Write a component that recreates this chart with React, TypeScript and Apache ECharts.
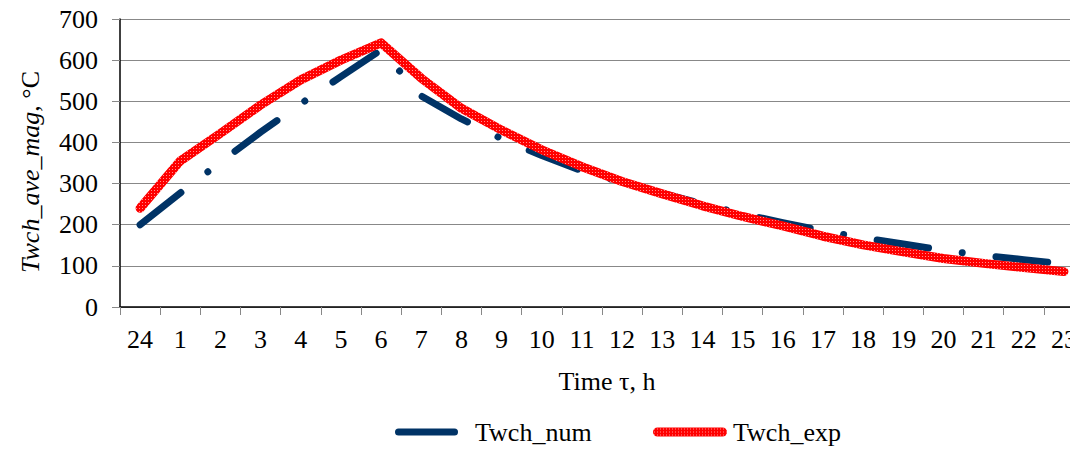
import React, { useEffect, useRef } from 'react';
import * as echarts from 'echarts';

const categories = ['24', '1', '2', '3', '4', '5', '6', '7', '8', '9', '10', '11', '12', '13', '14', '15', '16', '17', '18', '19', '20', '21', '22', '23'];
const twchNum = [200, 277, 352, 425, 494, 560, 625, 513, 457, 409, 368, 331, 303, 276, 251, 226, 205, 185, 168, 153, 138, 125, 115, 105];
const twchExp = [240, 355, 422, 491, 552, 600, 642, 556, 483, 430, 382, 341, 305, 275, 246, 220, 197, 172, 151, 134, 118, 106, 96, 86];
const yMin = 0;
const yMax = 700;
const yStep = 100;

const FONT = 'Liberation Serif';

const blueIcon = 'path://M3.5,0 H59.5 A3.5,3.5 0 0 1 59.5,7 H3.5 A3.5,3.5 0 0 1 3.5,0 Z';
const redIcon = 'path://M4.5,0 H69.5 A4.5,4.5 0 0 1 69.5,9 H4.5 A4.5,4.5 0 0 1 4.5,0 Z';

export default function App() {
  const ref = useRef<HTMLDivElement>(null);
  useEffect(() => {
    const chart = echarts.init(ref.current!, undefined, { renderer: 'svg' });
    const cv = document.createElement('canvas');
    cv.width = 3;
    cv.height = 3;
    const ctx = cv.getContext('2d')!;
    ctx.fillStyle = '#ff0000';
    ctx.fillRect(0, 0, 3, 3);
    ctx.fillStyle = '#ff8f8f';
    ctx.fillRect(1, 1, 1, 1);
    const redPattern: any = { image: cv, repeat: 'repeat', imageWidth: 3, imageHeight: 3 };

    chart.setOption({
      animation: false,
      backgroundColor: '#ffffff',
      grid: { left: 120, top: 19, height: 288, width: 964, containLabel: false, outerBoundsMode: 'none' },
      xAxis: {
        type: 'category',
        data: categories,
        boundaryGap: true,
        name: 'Time τ, h',
        nameLocation: 'middle',
        nameGap: 61,
        nameTextStyle: { fontFamily: FONT, fontSize: 26, color: '#000', padding: [0, 0, 0, 10] },
        axisLine: { show: true, lineStyle: { color: '#000', width: 1.5 } },
        axisTick: { show: true, alignWithLabel: false, length: 8, lineStyle: { color: '#888', width: 1 } },
        axisLabel: { fontFamily: FONT, fontSize: 26, color: '#000', margin: 19, interval: 0 },
        splitLine: { show: false },
      },
      yAxis: {
        type: 'value',
        min: yMin,
        max: yMax,
        interval: yStep,
        name: '{i|Twch_ave_mag}{n|, °C}',
        nameLocation: 'middle',
        nameRotate: 90,
        nameGap: 77,
        nameTextStyle: {
          fontFamily: FONT,
          fontSize: 26,
          color: '#000',
          padding: [0, 18, 0, 0],
          rich: {
            i: { fontFamily: FONT, fontSize: 26, fontStyle: 'italic', color: '#000' },
            n: { fontFamily: FONT, fontSize: 26, color: '#000' },
          },
        },
        axisLine: { show: true, lineStyle: { color: '#000', width: 1.5 } },
        axisTick: { show: true, length: 8, lineStyle: { color: '#888', width: 1 } },
        axisLabel: { fontFamily: FONT, fontSize: 26, color: '#000', margin: 22 },
        splitLine: { show: true, lineStyle: { color: '#888', width: 1 } },
      },
      legend: [
        {
          data: [{ name: 'Twch_num', icon: blueIcon, itemStyle: { color: '#003366' } }],
          left: 395,
          top: 419,
          padding: 0,
          itemWidth: 63,
          itemHeight: 7,
          selectedMode: false,
          textStyle: { fontFamily: FONT, fontSize: 26, color: '#000', padding: [0, 0, 0, 12] },
        },
        {
          data: [{ name: 'Twch_exp', icon: redIcon, itemStyle: { color: redPattern } }],
          left: 653,
          top: 419,
          padding: 0,
          itemWidth: 74,
          itemHeight: 9,
          selectedMode: false,
          textStyle: { fontFamily: FONT, fontSize: 26, color: '#000', padding: [0, 0, 0, 1] },
        },
      ],
      series: [
        {
          name: 'Twch_num',
          type: 'line',
          data: twchNum,
          symbol: 'none',
          z: 2,
          itemStyle: { color: '#003366' },
          lineStyle: { color: '#003366', width: 7, type: [52, 34, 0.01, 34], cap: 'round', join: 'round' },
        },
        {
          name: 'Twch_exp',
          type: 'line',
          data: twchExp,
          symbol: 'none',
          z: 3,
          itemStyle: { color: '#ff0000' },
          lineStyle: { color: redPattern, width: 9, cap: 'round', join: 'round' },
        },
      ],
    });
    return () => chart.dispose();
  }, []);
  return (
    <div
      ref={ref}
      style={{ position: 'fixed', left: 0, top: 0, width: 1070, height: 449, background: '#fff' }}
    />
  );
}
